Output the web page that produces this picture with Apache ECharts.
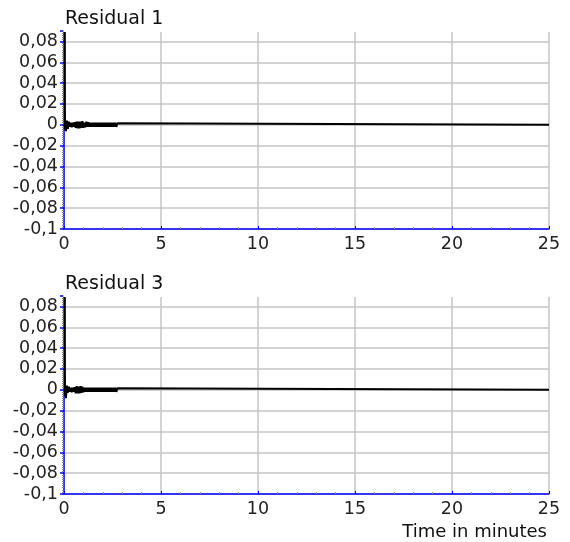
<!DOCTYPE html>
<html>
<head>
<meta charset="UTF-8">
<title>Residuals</title>
<script src="https://cdn.jsdelivr.net/npm/echarts@6/dist/echarts.min.js"></script>
<style>
  body { margin: 0; background: #fff; }
  #chart { width: 570px; height: 542px; }
</style>
</head>
<body>
<div id="chart"></div>
<script>
// time in minutes (dense part up to 2.8, then flat to the end)
var times = [0, 0.05, 0.1, 0.15, 0.2, 0.25, 0.3, 0.35, 0.4, 0.45, 0.5, 0.55, 0.6, 0.65, 0.7, 0.75,
  0.8, 0.85, 0.9, 0.95, 1.0, 1.05, 1.1, 1.15, 1.2, 1.25, 1.3, 1.35, 1.4, 1.45, 1.5, 1.55, 1.6, 1.65,
  1.7, 1.75, 1.8, 1.85, 1.9, 1.95, 2.0, 2.05, 2.1, 2.15, 2.2, 2.25, 2.3, 2.35, 2.4, 2.45, 2.5, 2.55,
  2.6, 2.65, 2.7, 2.75, 2.8, 25];

var residual1 = [0.6, -0.003, -0.006, 0.004, -0.004, 0.003, -0.002, 0.002, -0.0025, 0.002, -0.002, 0.0025,
  -0.003, 0.003, -0.0035, 0.003, -0.0035, 0.003, -0.003, 0.0035, -0.003, 0.002, -0.0025, 0.003, -0.002,
  0.0025, -0.002, 0.002, -0.002, 0.002, -0.002, 0.002, -0.002, 0.002, -0.002, 0.002, -0.002,
  0.002, -0.002, 0.002, -0.002, 0.002, -0.002, 0.002, -0.002, 0.002, -0.002, 0.002, -0.002,
  0.002, -0.002, 0.002, -0.002, 0.002, -0.002, 0.0015, 0, 0];

var residual3 = [0.6, -0.004, -0.008, 0.004, -0.003, 0.003, -0.002, 0.002, -0.0025, 0.002, -0.002, 0.0025,
  -0.0035, 0.0035, -0.0035, 0.003, -0.0035, 0.0035, -0.003, 0.003, -0.0025, 0.002, -0.002, 0.002, -0.002,
  0.002, -0.002, 0.002, -0.002, 0.002, -0.002, 0.002, -0.002, 0.002, -0.002, 0.002, -0.002,
  0.002, -0.002, 0.002, -0.002, 0.002, -0.002, 0.002, -0.002, 0.002, -0.002, 0.002, -0.002,
  0.002, -0.002, 0.002, -0.002, 0.002, -0.002, 0.0015, 0, 0];

var panelTitles = ['Residual 1', 'Residual 3'];
var xTicks = { min: 0, max: 25, interval: 5 };
var yTicks = { min: -0.1, max: 0.09, interval: 0.02 };

function pairs(t, v) {
  return t.map(function (x, i) { return [x, v[i]]; });
}

function fmtY(v) {
  var s = (Math.round(v * 100) / 100).toFixed(2).replace(/0+$/, '').replace(/\.$/, '');
  if (s === '-0' || s === '') s = '0';
  return s.replace('.', ',');
}

var font = 'DejaVu Sans';
var tops = [31, 296];
var gridGray = '#c4c4c4';

var grids = [], xAxes = [], topAxes = [], yAxes = [], series = [], titles = [];
tops.forEach(function (top, i) {
  grids.push({ left: 64, width: 485, top: top, height: 198 });
  xAxes.push({
    type: 'value', gridIndex: i,
    min: xTicks.min, max: xTicks.max, interval: xTicks.interval,
    axisLine: { onZero: false, lineStyle: { color: '#0000ff', width: 1.5 } },
    axisTick: { show: true, inside: true, length: 3, lineStyle: { color: '#0000ff' } },
    minorTick: { show: true, splitNumber: 5, length: 2, lineStyle: { color: '#999' } },
    axisLabel: { color: '#222', fontFamily: font, fontSize: 17.5, margin: 6 },
    splitLine: { show: true, lineStyle: { color: gridGray, width: 1.5 } }
  });
  // plain white top edge (the reference has no grid line at the top)
  topAxes.push({
    type: 'value', gridIndex: i, position: 'top', z: 5,
    min: xTicks.min, max: xTicks.max, interval: xTicks.interval,
    axisLine: { onZero: false, lineStyle: { color: '#ffffff', width: 2 } },
    axisTick: { show: false }, axisLabel: { show: false }, splitLine: { show: false }
  });
  yAxes.push({
    type: 'value', gridIndex: i,
    min: yTicks.min, max: yTicks.max, interval: yTicks.interval,
    axisLine: { show: true, lineStyle: { color: '#0000ff', width: 1.5 } },
    axisTick: { show: true, length: 4, lineStyle: { color: '#0000ff', width: 1.5 } },
    minorTick: { show: true, splitNumber: 10, length: 2, lineStyle: { color: '#888' } },
    axisLabel: { color: '#222', fontFamily: font, fontSize: 17.5, margin: 6, formatter: fmtY },
    splitLine: { show: true, lineStyle: { color: gridGray, width: 1.5 } }
  });
  series.push({
    type: 'line', xAxisIndex: i, yAxisIndex: i,
    data: pairs(times, i === 0 ? residual1 : residual3),
    showSymbol: false, clip: true,
    lineStyle: { color: '#000', width: 2 },
    animation: false
  });
  titles.push({
    text: panelTitles[i], left: 60, top: top - 26,
    textStyle: { fontFamily: font, fontSize: 19, fontWeight: 'normal', color: '#111' }
  });
});

titles.push({
  text: 'Time in minutes', right: 18, top: 518,
  textStyle: { fontFamily: font, fontSize: 18, fontWeight: 'normal', color: '#111' }
});

var chart = echarts.init(document.getElementById('chart'));
chart.setOption({
  animation: false,
  title: titles,
  grid: grids,
  xAxis: xAxes.concat(topAxes),
  yAxis: yAxes,
  series: series
});
</script>
</body>
</html>
